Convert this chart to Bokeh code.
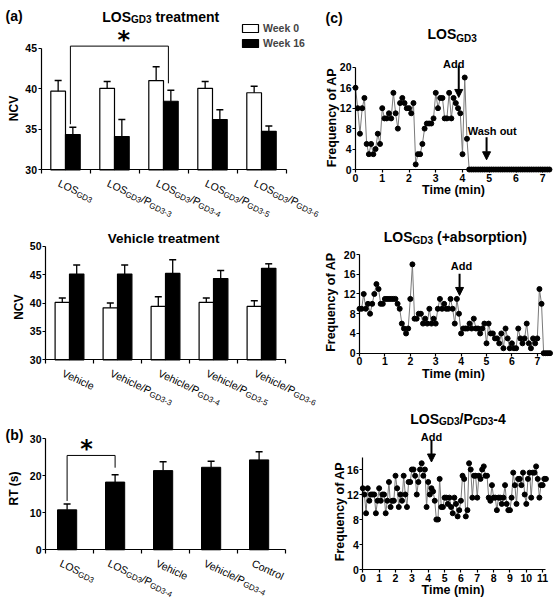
import math
from bokeh.plotting import figure
from bokeh.models import Range1d, FixedTicker, Label, Legend, LegendItem, Arrow, NormalHead
from bokeh.layouts import row, column
from bokeh.embed import file_html
from bokeh.resources import INLINE

# ------------------------------------------------------------------ data
a_categories = ["LOS_{GD3}", "LOS_{GD3}/P_{GD3-3}", "LOS_{GD3}/P_{GD3-4}",
                "LOS_{GD3}/P_{GD3-5}", "LOS_{GD3}/P_{GD3-6}"]
a_week0 = [39.7, 40.05, 41.0, 40.05, 39.5]
a_week0_err = [1.3, 0.85, 1.7, 0.85, 0.8]
a_week16 = [34.35, 34.1, 38.45, 36.2, 34.75]
a_week16_err = [0.9, 2.1, 1.35, 1.2, 0.65]

v_categories = ["Vehicle", "Vehicle/P_{GD3-3}", "Vehicle/P_{GD3-4}",
                "Vehicle/P_{GD3-5}", "Vehicle/P_{GD3-6}"]
v_week0 = [40.1, 39.15, 39.4, 40.1, 39.4]
v_week0_err = [0.8, 0.85, 1.7, 0.8, 1.0]
v_week16 = [45.1, 45.1, 45.2, 44.3, 46.1]
v_week16_err = [1.6, 1.6, 2.4, 1.4, 0.8]

legend_labels = ["Week 0", "Week 16"]

b_categories = ["LOS_{GD3}", "LOS_{GD3}/P_{GD3-4}", "Vehicle", "Vehicle/P_{GD3-4}", "Control"]
b_rt = [10.8, 18.3, 21.4, 22.3, 24.3]
b_rt_err = [1.6, 2.0, 2.4, 1.6, 2.2]

a_sig_pair = (0, 2)
a_sig_top = 45.25
b_sig_pair = (0, 1)
b_sig_top = 25.5

# action-potential frequency traces (one value per time bin)
c1_bin_seconds = 5
c1_freq = [16, 12, 7, 12, 14, 5, 3, 5, 3, 4,
           7, 5, 12, 10, 10, 11, 10, 15, 11, 8,
           13, 14, 13, 12, 12, 11, 13, 1, 3, 3,
           5, 8, 9, 9, 9, 10, 15, 12, 14, 14,
           10, 10, 15, 10, 14, 13, 12, 11, 3, 18,
           6, 0, 0, 0, 0, 0, 0, 0, 0, 0,
           0, 0, 0, 0, 0, 0, 0, 0, 0, 0,
           0, 0, 0, 0, 0, 0, 0, 0, 0, 0,
           0, 0, 0, 0, 0, 0, 0, 0]
c1_add_time = 3.86
c1_wash_time = 4.9

c2_bin_seconds = 5
c2_freq = [9, 9, 12, 9, 10, 8, 10, 12, 14, 13,
           10, 10, 11, 11, 11, 11, 11, 11, 10, 9,
           6, 5, 4, 5, 11, 18, 7, 7, 8, 8,
           6, 7, 6, 9, 6, 7, 6, 9, 11, 9,
           10, 9, 9, 11, 9, 6, 11, 8, 4, 5,
           5, 5, 6, 5, 7, 5, 5, 4, 5, 6,
           2, 6, 4, 4, 3, 3, 2, 4, 1, 5,
           3, 1, 2, 1, 1, 5, 3, 2, 3, 6,
           2, 1, 3, 2, 3, 13, 10, 0, 0, 0, 0]
c2_add_time = 3.94

c3_bin_seconds = 6
c3_freq = [13, 12, 9, 13, 11, 12, 12, 12, 9, 11,
           13, 11, 12, 12, 9, 11, 14, 10, 11, 11,
           15, 13, 10, 12, 11, 15, 12, 10, 14, 14,
           16, 16, 15, 12, 14, 16, 17, 15, 16, 10,
           14, 12, 13, 12.5, 11, 8, 8, 14.5, 10, 10,
           11.5, 11.5, 10.5, 11.5, 10, 9, 11.5, 10.5, 8.5, 9.5,
           11, 15, 14.5, 8.5, 9.5, 17, 16, 11.5, 15, 15,
           11.5, 15, 14.5, 16, 16.5, 15, 15, 11.5, 11, 13.5,
           11.5, 11.5, 9.5, 11.5, 11.5, 10.5, 11.5, 13.5, 10.5, 9.5,
           9.5, 11.5, 15.5, 13.5, 10.5, 14.5, 14.5, 13.5, 15.5, 12,
           10.5, 14.5, 15.5, 11.5, 15.5, 15.5, 16.5, 14.5, 11.5, 13.5,
           13.5, 14.5, 14.5]
c3_add_time = 4.2

# ------------------------------------------------------------------ text helpers
FONT = "Liberation Sans"
STAR_FONT = "DejaVu Sans"

REG = {'L': 556, 'O': 778, 'S': 667, 'G': 778, 'D': 722, 'P': 667, 'V': 667, 'C': 722,
       '/': 278, '-': 333, ' ': 278, 'e': 556, 'h': 556, 'i': 222, 'c': 500, 'l': 222,
       'o': 556, 'n': 556, 't': 278, 'r': 333, '(': 333, ')': 333}
BOLD = {'L': 611, 'O': 778, 'S': 667, 'G': 778, 'D': 722, 'P': 667, 'V': 667, 'C': 722,
        'N': 722, 'R': 722, 'T': 611, 'F': 611, 'A': 722, 'W': 944, '/': 278, '-': 333,
        ' ': 278, '(': 333, ')': 333, '+': 584, 'a': 556, 'b': 611, 'c': 556, 'd': 611,
        'e': 556, 'f': 333, 'h': 611, 'i': 278, 'k': 556, 'l': 278, 'm': 889, 'n': 611,
        'o': 611, 'p': 611, 'q': 611, 'r': 389, 's': 556, 't': 333, 'u': 611, 'y': 556}


def text_width(s, size, bold):
    table = BOLD if bold else REG
    return sum(table.get(ch, 556) for ch in s) * size / 1000.0


def parse_rich(label):
    out, i = [], 0
    while i < len(label):
        j = label.find("_{", i)
        if j < 0:
            out.append((label[i:], False))
            break
        if j > i:
            out.append((label[i:j], False))
        k = label.find("}", j)
        out.append((label[j + 2:k], True))
        i = k + 1
    return out


class Panel:
    """A figure whose plot frame fills it; axes sit at fixed data locations."""

    def __init__(self, ox, oy, w, h, ax_px, ax_py, xa, xppu, ya, yppu):
        self.fl = ox
        self.fb = oy + h
        self.xppu, self.yppu = xppu, yppu
        self.x0 = xa - (ax_px - ox) / xppu
        self.y0 = ya - (oy + h - ax_py) / yppu
        p = figure(width=w, height=h,
                   x_range=Range1d(self.x0, self.x0 + w / xppu),
                   y_range=Range1d(self.y0, self.y0 + h / yppu),
                   output_backend="svg", toolbar_location=None,
                   min_border=0, min_border_left=0, min_border_right=0,
                   min_border_top=0, min_border_bottom=0)
        p.grid.visible = False
        p.outline_line_color = None
        p.background_fill_color = "white"
        p.border_fill_color = "white"
        p.xaxis.fixed_location = ya
        p.yaxis.fixed_location = xa
        self.fig = p

    def dx(self, px):
        return self.x0 + (px - self.fl) / self.xppu

    def dy(self, py):
        return self.y0 + (self.fb - py) / self.yppu

    def px(self, x):
        return self.fl + (x - self.x0) * self.xppu

    def py(self, y):
        return self.fb - (y - self.y0) * self.yppu


def put(panel, text, px, py, size, bold=True, align="left", baseline="alphabetic",
        angle=0.0, font=FONT):
    panel.fig.add_layout(Label(x=panel.dx(px), y=panel.dy(py), text=text,
                               angle=math.radians(angle), text_font=font,
                               text_font_size=f"{size}px",
                               text_font_style="bold" if bold else "normal",
                               text_align=align, text_baseline=baseline,
                               text_color="black"))


def rich(panel, label, px, py, size, sub_size, sub_dy, bold=False, angle=0.0, align="left"):
    pieces = parse_rich(label)
    a = math.radians(angle)
    ca, sa = math.cos(a), math.sin(a)
    widths = [text_width(t, sub_size if s else size, bold) for t, s in pieces]
    if align == "center":
        tot = sum(widths)
        px -= tot / 2 * ca
        py -= tot / 2 * sa
    cum = 0.0
    for (t, s), w in zip(pieces, widths):
        sz = sub_size if s else size
        lead = len(t) - len(t.lstrip(" "))
        off = cum + text_width(t[:lead], sz, bold)
        d = sub_dy if s else 0.0
        x = px + off * ca - d * sa
        y = py + off * sa + d * ca
        put(panel, t.strip(" "), x, y, sz, bold=bold, angle=-angle)
        cum += w


def style_axes(panel, xticks, yticks, xbounds, ybounds, group_ticks=None, tick_font="10.5px"):
    p = panel.fig
    if group_ticks is not None:
        p.xaxis.ticker = FixedTicker(ticks=[], minor_ticks=group_ticks)
    else:
        p.xaxis.ticker = FixedTicker(ticks=xticks)
    p.yaxis.ticker = FixedTicker(ticks=yticks)
    p.xaxis.bounds = xbounds
    p.yaxis.bounds = ybounds
    for ax in p.axis:
        ax.axis_line_color = "black"
        ax.axis_line_width = 1.2
        ax.major_tick_line_color = "black"
        ax.major_tick_line_width = 1.2
        ax.minor_tick_line_color = None
        ax.major_tick_in = 0
        ax.major_tick_out = 3
        ax.major_label_standoff = 1
        ax.major_label_text_font = FONT
        ax.major_label_text_font_style = "bold"
        ax.major_label_text_font_size = tick_font
        ax.major_label_text_color = "black"
    if group_ticks is not None:
        p.xaxis.minor_tick_line_color = "black"
        p.xaxis.minor_tick_line_width = 1.2
        p.xaxis.minor_tick_in = 0
        p.xaxis.minor_tick_out = 4


def grouped_bars(panel, w0, e0, w16, e16, base):
    p = panel.fig
    n = len(w0)
    xw = [i + 0.5 - 0.15 for i in range(n)]
    xb = [i + 0.5 + 0.15 for i in range(n)]
    r0 = p.vbar(x=xw, top=w0, bottom=base, width=0.3, fill_color="white",
                line_color="black", line_width=1.2)
    r1 = p.vbar(x=xb, top=w16, bottom=base, width=0.3, fill_color="black",
                line_color="black", line_width=1.2)
    for xs, tops, errs in ((xw, w0, e0), (xb, w16, e16)):
        ends = [t + e for t, e in zip(tops, errs)]
        p.segment(x0=xs, y0=tops, x1=xs, y1=ends, line_color="black", line_width=1.3)
        p.scatter(x=xs, y=ends, marker="dash", size=7, line_color="black", line_width=1.5)
    return r0, r1


def group_labels(panel, cats, centers, axis_value):
    ay = panel.py(axis_value)
    for c, x in zip(cats, centers):
        rich(panel, c, panel.px(x) - 6.5, ay + 12.5, 10.5, 8, 3, bold=False, angle=25)


def bracket(panel, xl, xr, yl, yr, top, star_dx):
    panel.fig.line(x=[xl, xl, xr, xr], y=[yl, top, top, yr], line_color="black", line_width=1)
    sx = panel.px((xl + xr) / 2)
    sy = panel.py(top)
    put(panel, "*", sx + star_dx, sy - 6, 24, bold=True, align="center", font=STAR_FONT)


def trace(panel, freq, bin_seconds):
    t = [k * bin_seconds / 60.0 for k in range(len(freq))]
    p = panel.fig
    p.line(t, freq, line_color="#7a7a7a", line_width=1)
    p.scatter(t, freq, size=5, fill_color="black", line_color="black")


def add_arrow(panel, x, y_from, y_to):
    panel.fig.add_layout(Arrow(end=NormalHead(size=8, fill_color="black", line_color="black"),
                               x_start=x, y_start=y_from, x_end=x, y_end=y_to,
                               line_color="black", line_width=2))


# ------------------------------------------------------------------ panel (a) top
A1 = Panel(0, 0, 322, 224, 40.5, 169.3, 0, 49, 30, 8.11)
style_axes(A1, None, [30, 35, 40, 45], (0, 5), (30, 45), group_ticks=[0, 1, 2, 3, 4, 5])
r0, r1 = grouped_bars(A1, a_week0, a_week0_err, a_week16, a_week16_err, 30)
group_labels(A1, a_categories, [i + 0.5 for i in range(len(a_categories))], 30)
i0, i1 = a_sig_pair
bracket(A1, i0 + 0.6, i1 + 0.6,
        a_week16[i0] + a_week16_err[i0] + 3 / A1.yppu,
        a_week16[i1] + a_week16_err[i1] + 7 / A1.yppu, a_sig_top, 4.5)
legend = Legend(items=[LegendItem(label=legend_labels[0], renderers=[r0]),
                       LegendItem(label=legend_labels[1], renderers=[r1])],
                location=(240, 175), glyph_width=20, glyph_height=10, label_standoff=3,
                spacing=3, padding=0, margin=0, label_height=12,
                label_text_font=FONT, label_text_font_style="bold",
                label_text_font_size="10.5px", border_line_color=None,
                background_fill_alpha=0)
A1.fig.add_layout(legend)
put(A1, "(a)", 5, 15.5, 14)
rich(A1, "LOS_{GD3} treatment", 101.7, 16.7, 14, 10, 2.6, bold=True)
put(A1, "NCV", 13.3, 108, 12, align="center", baseline="middle", angle=90)

# ------------------------------------------------------------------ panel (a) bottom
A2 = Panel(0, 224, 322, 188, 45, 359.3, 0, 48, 30, 5.68)
style_axes(A2, None, [30, 35, 40, 45, 50], (0, 5), (30, 50), group_ticks=[0, 1, 2, 3, 4, 5])
grouped_bars(A2, v_week0, v_week0_err, v_week16, v_week16_err, 30)
group_labels(A2, v_categories, [i + 0.5 for i in range(len(v_categories))], 30)
rich(A2, "Vehicle treatment", 163.4, 238.3, 13.5, 10, 0, bold=True, align="center")
put(A2, "NCV", 18.3, 306.7, 12, align="center", baseline="middle", angle=90)

# ------------------------------------------------------------------ panel (b)
B = Panel(0, 412, 322, 189, 45, 549.3, 0, 48, 0, 3.7)
style_axes(B, None, [0, 10, 20, 30], (0, 5), (0, 30), group_ticks=[0, 1, 2, 3, 4, 5])
bx = [i + 0.45 for i in range(len(b_categories))]
B.fig.vbar(x=bx, top=b_rt, bottom=0, width=0.4, fill_color="black", line_color="black")
b_ends = [v + e for v, e in zip(b_rt, b_rt_err)]
B.fig.segment(x0=bx, y0=b_rt, x1=bx, y1=b_ends, line_color="black", line_width=1.3)
B.fig.scatter(x=bx, y=b_ends, marker="dash", size=7, line_color="black", line_width=1.5)
group_labels(B, b_categories, bx, 0)
j0, j1 = b_sig_pair
bracket(B, bx[j0], bx[j1], b_ends[j0] + 3 / B.yppu, b_ends[j1] + 7 / B.yppu, b_sig_top, -4.5)
put(B, "(b)", 5, 434, 14)
put(B, "RT (s)", 13.3, 488, 12, align="center", baseline="middle", angle=90)

# ------------------------------------------------------------------ panel (c) top
C1 = Panel(322, 0, 234, 224, 355, 169, 0, 26.75, 0, 5.11)
style_axes(C1, list(range(0, 8)), [0, 4, 8, 12, 16, 20], (0, 7.3), (0, 20))
trace(C1, c1_freq, c1_bin_seconds)
add_arrow(C1, c1_add_time, 20.35, 14.1)
add_arrow(C1, c1_wash_time, 6.3, 1.9)
put(C1, "(c)", 325, 17.2, 14)
rich(C1, "LOS_{GD3}", 451.7, 33.3, 14, 10, 5, bold=True, align="center")
put(C1, "Add", 453.3, 63.2, 11, align="center")
put(C1, "Wash out", 491.7, 130.6, 11, align="center")
put(C1, "Frequency of AP", 331.7, 117, 12.5, align="center", baseline="middle", angle=90)
put(C1, "Time (min)", 453, 189.3, 12.5, align="center", baseline="middle")

# ------------------------------------------------------------------ panel (c) middle
C2 = Panel(322, 224, 234, 181, 359, 352.7, 0, 25.4, 0, 4.935)
style_axes(C2, list(range(0, 8)), [0, 4, 8, 12, 16, 20], (0, 7.5), (0, 20))
trace(C2, c2_freq, c2_bin_seconds)
add_arrow(C2, c2_add_time, 16.1, 11.7)
rich(C2, "LOS_{GD3} (+absorption)", 383.3, 236.7, 14, 10, 3, bold=True)
put(C2, "Add", 461, 265, 11, align="center")
put(C2, "Frequency of AP", 330, 301.7, 12.5, align="center", baseline="middle", angle=90)
put(C2, "Time (min)", 453, 373.3, 12.5, align="center", baseline="middle")

# ------------------------------------------------------------------ panel (c) bottom
C3 = Panel(322, 405, 234, 196, 362.3, 569, 0, 16.35, 0, 6.25)
style_axes(C3, list(range(0, 12)), [0, 4, 8, 12, 16], (0, 11.2), (0, 18))
trace(C3, c3_freq, c3_bin_seconds)
add_arrow(C3, c3_add_time, 20.6, 17.2)
rich(C3, "LOS_{GD3}/P_{GD3}-4", 457.5, 418.3, 14, 10, 2.5, bold=True, align="center")
put(C3, "Add", 431, 436, 11, align="center")
put(C3, "Frequency of AP", 339, 511, 12.5, align="center", baseline="middle", angle=90)
put(C3, "Time (min)", 452.5, 589.3, 12.5, align="center", baseline="middle")

layout = row(column(A1.fig, A2.fig, B.fig), column(C1.fig, C2.fig, C3.fig))
open("out.html", "w").write(file_html(layout, INLINE))
